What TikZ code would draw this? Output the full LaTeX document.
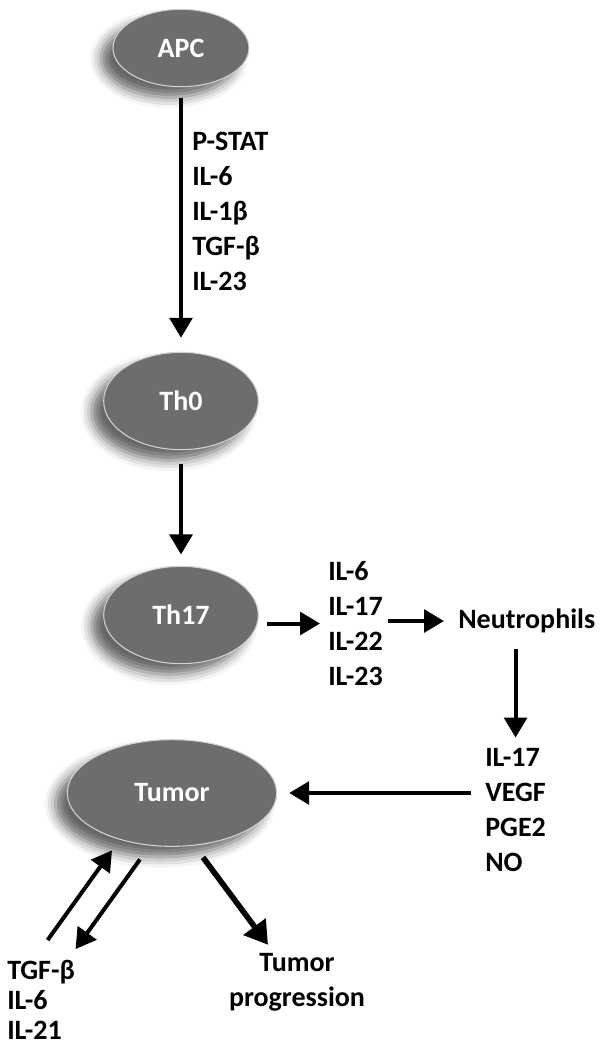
\documentclass[tikz,border=0pt]{standalone}
\usepackage{fontspec}
\setmainfont{Carlito}
\usetikzlibrary{shapes.geometric, arrows.meta, calc, shadows.blur}
\definecolor{cellgray}{RGB}{109,109,109}

\begin{document}
\begin{tikzpicture}[x=0.75pt, y=-0.75pt,
	cell/.style={ellipse, fill=cellgray, draw=gray!35, line width=0.8pt, text=white, inner sep=0pt,
		font=\fontsize{21}{25}\selectfont\bfseries,
		blur shadow={shadow xshift=-9pt, shadow yshift=-8pt, shadow blur radius=8pt, shadow opacity=60}},
	cyto/.style={font=\fontsize{21}{26.25}\selectfont\bfseries, align=left, inner sep=0pt},
	arr/.style={line width=3pt, -{Triangle[width=17pt, length=15pt]}}]
	\useasboundingbox (0,0) rectangle (602,1047);
	% cells
	\node[cell, minimum width=102pt, minimum height=58pt] (apc) at (181,48) {APC};
	\node[cell, minimum width=116pt, minimum height=73pt] (th0) at (181,401) {Th0};
	\node[cell, minimum width=116pt, minimum height=73pt] (th17) at (181,615) {Th17};
	\node[cell, minimum width=157pt, minimum height=80pt] (tumor) at (172,793) {Tumor};
	% cytokine lists
	\node[cyto, anchor=west] (sig1) at (192,211) {P-STAT\\IL-6\\IL-1β\\TGF-β\\IL-23};
	\node[cyto, anchor=west] (sig2) at (328,623.5) {IL-6\\IL-17\\IL-22\\IL-23};
	\node[cyto, anchor=west] (neut) at (458,621) {Neutrophils};
	\node[cyto, anchor=west] (sig3) at (485,809.5) {IL-17\\VEGF\\PGE2\\NO};
	\node[cyto, anchor=west, font=\fontsize{21}{22.5}\selectfont\bfseries] (sig4) at (7,1000) {TGF-β\\IL-6\\IL-21};
	\node[cyto, align=center] (prog) at (297,982) {Tumor\\progression};
	% arrows
	\draw[arr, shorten <=8pt, shorten >=10.5pt] (apc) -- (th0);
	\draw[arr, shorten <=10.5pt, shorten >=8.5pt] (th0) -- (th17);
	\draw[arr, shorten <=6pt, shorten >=6pt] (th17.east |- sig2.west) -- (sig2.west);
	\draw[arr, shorten <=4pt, shorten >=10.5pt] (sig2.east |- neut.west) -- (neut.west);
	\draw[arr, shorten <=11.5pt, shorten >=7.5pt] (sig3.north |- neut.south) -- (sig3.north);
	\draw[arr, shorten <=10.5pt, shorten >=9pt] (sig3.west |- tumor.east) -- (tumor.east);
	\draw[arr] ($(sig4.north)+(6.5,-20)$) -- ($(tumor.south)+(-60,3.5)$);
	\draw[arr] ($(tumor.south)+(-32,12.5)$) -- ($(sig4.north)+(34.5,-11)$);
	\draw[arr, line width=4.2pt, -{Triangle[width=20pt, length=17pt]}] ($(tumor.south)+(31,10.5)$) -- ($(prog.north)+(-29,-8)$);
\end{tikzpicture}
\end{document}
